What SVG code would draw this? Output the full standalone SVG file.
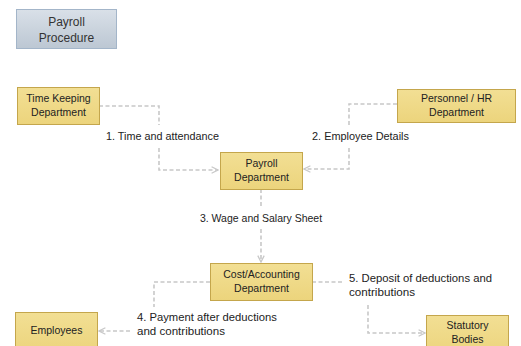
<svg xmlns="http://www.w3.org/2000/svg" width="521" height="346" viewBox="0 0 521 346">
  <defs>
    <linearGradient id="titleFill" x1="0" y1="0" x2="0" y2="1">
      <stop offset="0" stop-color="#d9e0e8"/>
      <stop offset="1" stop-color="#bcc7d3"/>
    </linearGradient>
    <linearGradient id="deptFill" x1="0" y1="0" x2="0" y2="1">
      <stop offset="0" stop-color="#f2df94"/>
      <stop offset="1" stop-color="#ecd47c"/>
    </linearGradient>
    <marker id="arrow" viewBox="0 0 10 10" refX="9" refY="5" markerWidth="8" markerHeight="8" markerUnits="userSpaceOnUse" orient="auto">
      <path d="M1,1 L9,5 L1,9" fill="none" stroke="#c8c8c8" stroke-width="1.6"/>
    </marker>
    <style>
      .title { fill: url(#titleFill); stroke: #a3b5c9; stroke-width: 1; }
      .dept { fill: url(#deptFill); stroke: #c4a64c; stroke-width: 1; }
      .txt { font-family: "Liberation Sans", Arial, sans-serif; font-size: 10.5px; fill: #222; }
      .big { font-size: 12px; fill: #333; }
      .mid { text-anchor: middle; }
      .link { fill: none; stroke: #c8c8c8; stroke-width: 1.6; stroke-dasharray: 4 2.5; }
    </style>
  </defs>

  <rect width="521" height="346" fill="#ffffff"/>

  <g id="title">
    <rect class="title" x="16.5" y="9.5" width="100" height="39"/>
    <text class="txt big mid" x="66.5" y="26">Payroll</text>
    <text class="txt big mid" x="66.5" y="42">Procedure</text>
  </g>

  <g id="connectors">
    <!-- 1. Time keeping to payroll -->
    <path class="link" d="M99,106 H159 V125"/>
    <path class="link" d="M159,148 V170 H218" marker-end="url(#arrow)"/>
    <text class="txt" x="106" y="140" textLength="113" lengthAdjust="spacingAndGlyphs">1. Time and attendance</text>
    <!-- 2. Personnel to payroll -->
    <path class="link" d="M397,104 H349 V125"/>
    <path class="link" d="M349,148 V169 H304" marker-end="url(#arrow)"/>
    <text class="txt" x="312" y="140" textLength="97" lengthAdjust="spacingAndGlyphs">2. Employee Details</text>
    <!-- 3. Payroll to cost accounting -->
    <path class="link" d="M261,189 V208"/>
    <path class="link" d="M261,229 V262" marker-end="url(#arrow)"/>
    <text class="txt mid" x="261" y="222">3. Wage and Salary Sheet</text>
    <!-- 4. Cost accounting to employees -->
    <path class="link" d="M210,282 H154 V307"/>
    <path class="link" d="M130,331 H99" marker-end="url(#arrow)"/>
    <text class="txt" x="137" y="321" textLength="140" lengthAdjust="spacingAndGlyphs">4. Payment after deductions</text>
    <text class="txt" x="137" y="335" textLength="88" lengthAdjust="spacingAndGlyphs">and contributions</text>
    <!-- 5. Cost accounting to statutory bodies -->
    <path class="link" d="M312,282 H343"/>
    <path class="link" d="M368,305 V333 H425" marker-end="url(#arrow)"/>
    <text class="txt" x="349" y="282" textLength="143" lengthAdjust="spacingAndGlyphs">5. Deposit of deductions and</text>
    <text class="txt" x="349" y="296" textLength="66" lengthAdjust="spacingAndGlyphs">contributions</text>
  </g>

  <g id="time-keeping">
    <rect class="dept" x="17.5" y="87.5" width="82" height="37"/>
    <text class="txt mid" x="58.5" y="102">Time Keeping</text>
    <text class="txt mid" x="58.5" y="116">Department</text>
  </g>

  <g id="personnel-hr">
    <rect class="dept" x="397.5" y="89.5" width="118" height="33"/>
    <text class="txt mid" x="456.5" y="102">Personnel / HR</text>
    <text class="txt mid" x="456.5" y="116">Department</text>
  </g>

  <g id="payroll-dept">
    <rect class="dept" x="220.5" y="152.5" width="82" height="37"/>
    <text class="txt mid" x="261.5" y="167">Payroll</text>
    <text class="txt mid" x="261.5" y="181">Department</text>
  </g>

  <g id="cost-accounting">
    <rect class="dept" x="210.5" y="263.5" width="102" height="37"/>
    <text class="txt mid" x="261.5" y="278">Cost/Accounting</text>
    <text class="txt mid" x="261.5" y="292">Department</text>
  </g>

  <g id="employees">
    <rect class="dept" x="15.5" y="312.5" width="82" height="40"/>
    <text class="txt mid" x="56.5" y="334">Employees</text>
  </g>

  <g id="statutory-bodies">
    <rect class="dept" x="426.5" y="315.5" width="82" height="40"/>
    <text class="txt mid" x="467.5" y="329">Statutory</text>
    <text class="txt mid" x="467.5" y="343">Bodies</text>
  </g>
</svg>
